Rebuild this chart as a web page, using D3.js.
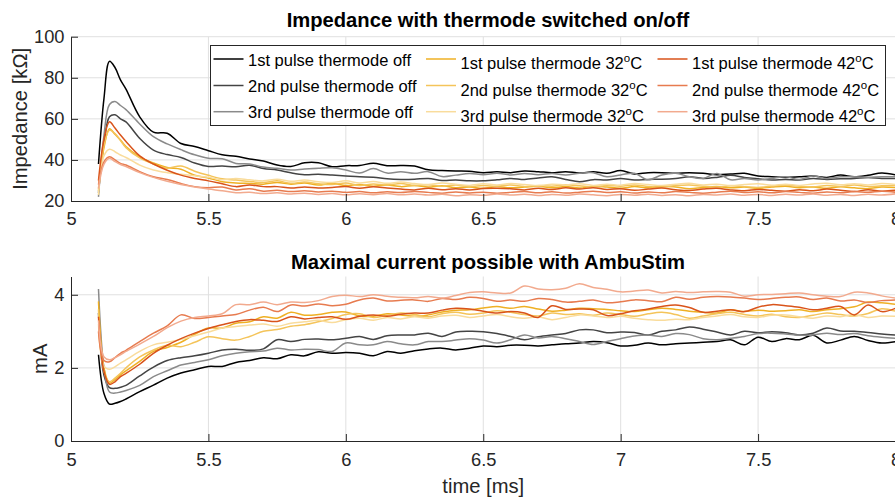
<!DOCTYPE html>
<html>
<head>
<meta charset="utf-8">
<script src="https://cdn.jsdelivr.net/npm/d3@7"></script>
<style>
  html, body { margin: 0; padding: 0; background: #fff; }
  svg { display: block; font-family: "Liberation Sans", Arial, Helvetica, sans-serif; }
</style>
</head>
<body>
<svg id="chart" width="895" height="497"></svg>
<script>
// ---- sample times [ms] ----
const time = [5.10,5.12,5.14,5.16,5.18,5.20,5.25,5.30,5.35,5.40,5.45,5.50,5.55,5.60,5.65,5.70,5.75,5.80,5.85,5.90,5.95,
  6.00,6.05,6.10,6.15,6.20,6.25,6.30,6.35,6.40,6.45,6.50,6.55,6.60,6.65,6.70,6.75,6.80,6.85,6.90,6.95,
  7.00,7.05,7.10,7.15,7.20,7.25,7.30,7.35,7.40,7.45,7.50,7.55,7.60,7.65,7.70,7.75,7.80,7.85,7.90,7.95,8.00];

// ---- legend entries and colours ----
const seriesNames = [
  "1st pulse thermode off", "2nd pulse thermode off", "3rd pulse thermode off",
  "1st pulse thermode 32^oC", "2nd pulse thermode 32^oC", "3rd pulse thermode 32^oC",
  "1st pulse thermode 42^oC", "2nd pulse thermode 42^oC", "3rd pulse thermode 42^oC"
];
const seriesColors = [
  "#000000", "#444444", "#8a8a8a",
  "#efb024", "#f4c45a", "#f9dc9c",
  "#d9531a", "#e77b4f", "#f2aa8e"
];

// ---- impedance [kOhm] ----
const impOff1 = [38,70,88,85,79,74.5,61,53.5,53,48,46.5,44.5,42.5,41.8,40.5,39.5,37.5,36.8,38.6,38.6,36.7,37.2,37.3,38.4,37.2,37.3,
  37.0,35.2,34.8,34.6,34.5,33.8,34.2,33.8,34.6,34.3,33.8,34.3,33.6,34.2,33.5,34.8,33.2,33.8,33.8,33.5,
  33.8,33.5,32.8,33.1,33.5,32.2,31.8,31.5,31.8,32.2,31.5,32.6,31.8,32.5,33.6,32.7];
const impOff2 = [24,48,61,62,60,58.5,50.5,44.8,42.6,41.2,38.5,36.8,37.0,36.7,37.4,35.8,35.1,33.7,32.8,33.0,32.6,32.2,31.8,31.6,30.8,30.5,
  30.6,31.0,30.0,30.2,29.8,29.8,30.3,31.0,30.5,31.2,31.8,30.5,29.4,30.4,30.2,31.0,30.2,30.5,30.6,31.0,
  31.8,31.0,31.5,32.5,31.5,30.8,30.2,30.5,30.2,31.0,30.5,30.8,31.0,31.5,31.0,31.0];
const impOff3 = [22,52,67,68.5,66.5,64.5,57.5,51.3,47.8,45,42.5,40.8,40.6,38.3,38.0,36.5,35.9,35.1,35.6,36.0,36.2,35.1,33.6,35.8,33.6,34.3,
  33.5,34.3,31.9,32.6,33.4,32.8,33.5,32.7,33.4,32.8,33.4,32.7,33.5,33.8,31.8,32.7,33.5,30.3,32.7,33.5,
  31.8,31.0,33.4,30.3,31.0,30.2,31.0,31.8,30.5,32.2,31.0,31.8,31.8,31.5,31.8,31.8];
const imp32a = [25,46,55.2,52.5,49.7,46.5,41.5,38.5,36.3,35.5,32.5,31.2,29.4,28.8,28.5,28.2,29.0,28.2,28.8,27.8,28.6,27.5,28.0,27.2,27.8,27.0,
  27.5,26.8,27.4,26.5,26.8,26.2,27.0,26.4,26.8,27.2,26.5,27.0,26.3,27.2,26.8,26.2,27.0,26.5,27.2,26.8,
  26.0,26.6,27.0,26.4,26.8,26.2,26.8,27.2,26.5,26.8,26.2,26.9,26.4,26.0,26.8,26.5];
const imp32b = [26,47,54.5,52.8,49.5,46.0,41.0,38.0,36.0,37.0,34.5,32.5,30.8,30.2,29.5,29.0,29.8,28.6,29.2,28.4,28.0,28.8,27.6,28.3,27.8,28.5,
  27.6,27.9,27.2,27.8,27.0,27.5,27.2,27.8,27.0,27.6,27.2,27.9,27.4,26.8,27.6,27.2,27.8,27.1,26.7,27.5,
  27.8,27.2,26.8,27.4,27.0,26.6,27.3,27.8,27.2,26.8,27.5,27.1,27.8,27.0,27.4,27.6];
const imp32c = [23,42,45.2,44.0,42.4,41.2,37.5,35.1,33.8,33.0,32.3,31.5,30.4,31.0,30.3,29.8,30.6,29.6,30.2,29.4,29.0,29.8,28.8,29.5,28.6,29.2,
  28.5,28.0,28.8,28.2,27.6,28.4,27.8,28.5,28.0,27.4,28.2,27.8,28.4,27.6,28.2,27.7,28.5,28.0,27.5,28.2,
  28.6,27.8,28.2,27.5,28.0,28.4,27.7,28.2,27.6,28.3,28.6,27.9,28.4,27.8,28.5,28.0];
const imp42a = [30,50,58.6,55.5,52.1,49.0,42.0,38.0,35.0,32.6,31.0,29.8,28.4,27.0,27.8,27.0,27.0,26.3,26.8,26.3,26.6,27.0,26.2,26.9,26.3,25.8,
  25.4,26.2,25.5,26.0,25.4,26.1,26.2,26.0,25.4,26.2,25.6,26.4,25.8,26.5,25.6,26.0,25.2,25.8,26.3,25.5,
  25.1,25.8,26.2,25.4,25.0,25.6,25.2,24.8,25.5,25.0,25.8,25.2,24.6,25.5,24.8,25.2];
const imp42b = [28,39,41.5,40.0,38.3,37.5,34.3,31.8,30.5,28.5,27.0,26.5,26.8,25.4,26.0,24.8,25.2,24.6,25.0,24.4,24.8,24.2,24.6,24.0,24.5,24.1,
  24.6,24.2,23.8,24.4,23.9,24.3,23.8,24.2,24.6,24.0,24.5,23.9,24.3,24.8,24.1,24.5,23.9,24.4,24.0,24.6,
  24.2,23.8,24.3,24.8,24.1,24.5,24.0,24.6,24.2,23.8,24.4,24.0,24.6,24.2,24.7,24.3];
const imp42c = [26,38,40.8,39.2,37.8,36.8,33.8,31.5,29.6,28.0,26.8,25.8,25.0,24.0,24.2,23.6,24.0,23.4,23.8,23.2,23.6,23.0,23.5,23.1,23.6,23.0,
  23.4,22.9,23.3,22.6,23.1,22.8,23.4,22.9,23.3,22.7,23.2,22.8,23.4,23.0,22.6,23.2,22.8,23.3,22.7,23.1,
  22.6,23.2,22.9,23.4,22.8,23.2,22.7,23.3,22.9,23.4,22.8,23.2,22.7,23.3,22.9,23.5];

// ---- maximal current [mA] ----
const curOff1 = [2.36,1.3,1.01,1.03,1.08,1.15,1.35,1.53,1.72,1.86,1.95,2.04,2.04,2.15,2.20,2.28,2.25,2.36,2.33,2.44,2.40,2.42,2.40,2.33,2.45,2.40,
  2.47,2.52,2.54,2.49,2.54,2.60,2.58,2.62,2.62,2.60,2.63,2.66,2.68,2.72,2.69,2.60,2.62,2.68,2.63,2.66,
  2.68,2.70,2.72,2.77,2.63,2.84,2.72,2.80,2.77,2.89,2.68,2.76,2.86,2.75,2.68,2.72];
const curOff2 = [3.5,1.8,1.46,1.44,1.47,1.52,1.78,2.02,2.20,2.28,2.33,2.40,2.49,2.51,2.48,2.52,2.77,2.72,2.78,2.79,2.77,2.81,2.86,2.78,2.88,2.90,
  2.90,2.95,2.86,2.98,3.00,2.99,2.94,2.86,2.77,2.85,2.90,2.94,3.04,3.04,2.96,2.98,2.97,2.90,3.00,3.04,
  3.12,3.06,2.98,2.90,3.00,2.96,2.99,2.96,2.90,2.95,3.09,3.01,3.00,2.97,2.93,2.90];
const curOff3 = [4.16,2.0,1.34,1.31,1.34,1.38,1.52,1.76,1.92,2.08,2.15,2.22,2.33,2.40,2.44,2.46,2.54,2.49,2.51,2.50,2.45,2.68,2.63,2.63,2.72,2.66,
  2.63,2.72,2.72,2.76,2.80,2.76,2.68,2.77,2.90,2.82,2.86,2.80,2.72,2.64,2.72,2.80,2.87,2.90,2.86,2.94,
  2.91,2.80,2.77,2.81,2.86,2.94,2.95,2.93,2.90,2.90,2.95,2.91,2.94,2.88,2.84,2.81];
const cur32a = [3.82,2.0,1.58,1.68,1.81,1.92,2.18,2.45,2.56,2.70,2.92,3.09,3.09,3.22,3.26,3.40,3.36,3.52,3.44,3.46,3.52,3.53,3.42,3.41,3.48,3.45,
  3.41,3.45,3.53,3.58,3.59,3.64,3.68,3.63,3.68,3.61,3.55,3.58,3.63,3.62,3.60,3.56,3.54,3.59,3.63,3.60,
  3.55,3.52,3.50,3.59,3.54,3.58,3.55,3.56,3.59,3.54,3.59,3.62,3.67,3.80,3.78,3.74];
const cur32b = [3.6,1.9,1.62,1.72,1.85,2.0,2.30,2.49,2.62,2.58,2.70,2.85,2.80,2.76,2.86,3.00,3.05,3.14,3.18,3.26,3.35,3.46,3.48,3.38,3.44,3.50,
  3.46,3.40,3.48,3.52,3.47,3.50,3.56,3.52,3.46,3.42,3.50,3.46,3.48,3.44,3.50,3.46,3.41,3.48,3.52,3.46,
  3.36,3.42,3.48,3.52,3.46,3.42,3.47,3.40,3.38,3.44,3.50,3.46,3.42,3.49,3.62,3.55];
const cur32c = [3.2,2.05,1.96,2.03,2.13,2.22,2.45,2.63,2.70,2.78,2.88,2.98,3.09,3.13,3.17,3.20,3.14,3.22,3.26,3.30,3.24,3.32,3.36,3.30,3.38,3.34,
  3.40,3.36,3.42,3.44,3.38,3.42,3.46,3.40,3.36,3.40,3.32,3.38,3.45,3.42,3.38,3.41,3.36,3.32,3.30,3.33,
  3.32,3.38,3.42,3.46,3.40,3.38,3.44,3.45,3.40,3.36,3.42,3.40,3.46,3.38,3.42,3.41];
const cur42a = [3.4,1.9,1.55,1.62,1.76,1.85,2.10,2.40,2.62,2.80,2.95,3.08,3.18,3.27,3.32,3.30,3.27,3.40,3.34,3.38,3.40,3.33,3.41,3.45,3.41,3.47,
  3.50,3.50,3.58,3.63,3.61,3.55,3.50,3.54,3.50,3.38,3.70,3.60,3.61,3.59,3.43,3.48,3.56,3.61,3.68,3.72,
  3.65,3.52,3.55,3.59,3.54,3.66,3.73,3.70,3.66,3.59,3.63,3.68,3.45,3.72,3.54,3.63];
const cur42b = [3.0,2.2,2.17,2.28,2.40,2.48,2.72,2.95,3.15,3.45,3.35,3.38,3.42,3.46,3.58,3.66,3.54,3.72,3.69,3.75,3.70,3.74,3.86,3.91,3.83,3.85,
  3.86,3.82,3.90,3.87,3.93,3.90,3.82,3.86,3.82,3.90,3.87,3.80,3.82,3.86,3.78,3.81,3.86,3.84,3.81,3.93,
  3.88,3.93,3.95,3.94,3.91,3.87,3.90,3.93,3.94,3.87,3.91,3.83,3.86,3.79,3.84,3.86];
const cur42c = [3.3,2.3,2.22,2.28,2.36,2.45,2.65,2.86,3.10,3.28,3.38,3.42,3.48,3.73,3.73,3.80,3.73,3.80,3.79,3.84,3.95,3.99,3.95,4.00,3.96,3.93,
  3.92,3.95,3.91,3.98,4.06,4.08,4.05,4.05,4.24,4.16,4.14,4.18,4.30,4.20,4.15,4.08,4.10,4.13,4.05,4.09,
  4.06,4.08,4.09,4.07,3.96,4.00,4.01,4.03,4.05,4.00,3.96,3.95,4.07,4.05,3.97,3.91];

// ---- axis ticks ----
const timeTicks = [5, 5.5, 6, 6.5, 7, 7.5, 8];
const timeTickLabels = ["5", "5.5", "6", "6.5", "7", "7.5", "8"];
const impTicks = [20, 40, 60, 80, 100];
const curTicks = [0, 2, 4];

const impedanceSeries = [impOff1, impOff2, impOff3, imp32a, imp32b, imp32c, imp42a, imp42b, imp42c];
const currentSeries = [curOff1, curOff2, curOff3, cur32a, cur32b, cur32c, cur42a, cur42b, cur42c];

// ---- drawing ----
const svg = d3.select("#chart");
const axisColor = "#262626";
const gridColor = "#e0e0e0";
const tickFont = 18.3, labelFont = 20.2, legendFont = 16.5;
const plotLeft = 71, plotRight = 895.5;
const titleX = 488;

const x = d3.scaleLinear().domain([5, 8]).range([plotLeft, plotRight]);

function drawPanel(cfg) {
  const y = d3.scaleLinear().domain(cfg.yDomain).range([cfg.bottom, cfg.top]);
  const g = svg.append("g");

  // grid
  g.append("g").selectAll("line").data(timeTicks.slice(1)).join("line")
    .attr("x1", d => x(d)).attr("x2", d => x(d))
    .attr("y1", cfg.top).attr("y2", cfg.bottom)
    .attr("stroke", gridColor).attr("stroke-width", 1);
  g.append("g").selectAll("line").data(cfg.yTicks.filter(v => v !== cfg.yDomain[0])).join("line")
    .attr("x1", plotLeft).attr("x2", plotRight)
    .attr("y1", d => y(d)).attr("y2", d => y(d))
    .attr("stroke", gridColor).attr("stroke-width", 1);

  // series
  const clipId = "clip" + cfg.id;
  svg.append("clipPath").attr("id", clipId).append("rect")
    .attr("x", plotLeft).attr("y", cfg.top).attr("width", plotRight - plotLeft).attr("height", cfg.bottom - cfg.top);
  const line = d3.line().x((d, i) => x(time[i])).y(d => y(d)).curve(d3.curveCatmullRom.alpha(0.5));
  g.append("g").attr("clip-path", `url(#${clipId})`)
    .selectAll("path").data(cfg.series).join("path")
    .attr("d", line)
    .attr("fill", "none")
    .attr("stroke", (d, i) => seriesColors[i])
    .attr("stroke-width", 1.5)
    .attr("stroke-linejoin", "round");

  // axes
  const xAxis = d3.axisBottom(x).tickValues(timeTicks).tickFormat((d, i) => timeTickLabels[i])
    .tickSizeInner(-7).tickSizeOuter(0).tickPadding(cfg.xPad);
  const gx = g.append("g").attr("transform", `translate(0,${cfg.bottom})`).call(xAxis);
  const yAxis = d3.axisLeft(y).tickValues(cfg.yTicks).tickFormat(d3.format("d"))
    .tickSizeInner(-7).tickSizeOuter(0).tickPadding(6.5);
  const gy = g.append("g").attr("transform", `translate(${plotLeft},0)`).call(yAxis);
  [gx, gy].forEach(a => {
    a.select(".domain").attr("stroke", axisColor).attr("stroke-width", 1);
    a.selectAll(".tick line").attr("stroke", axisColor).attr("stroke-width", 1);
    a.selectAll(".tick text").attr("fill", axisColor).style("font-size", tickFont + "px")
      .style("font-family", '"Liberation Sans", Arial, sans-serif');
  });

  // title
  svg.append("text")
    .attr("x", titleX).attr("y", cfg.titleY)
    .attr("text-anchor", "middle").attr("fill", "#000")
    .style("font-size", labelFont + "px").style("font-weight", "bold")
    .text(cfg.title);

  // y label
  svg.append("text")
    .attr("transform", `translate(${cfg.yLabelX},${(cfg.top + cfg.bottom) / 2}) rotate(-90)`)
    .attr("text-anchor", "middle").attr("fill", axisColor)
    .style("font-size", labelFont + "px")
    .text(cfg.yLabel);

  return y;
}

drawPanel({
  id: "imp", top: 36.7, bottom: 201, yDomain: [20, 100], yTicks: impTicks,
  series: impedanceSeries, xPad: 11, titleY: 27,
  title: "Impedance with thermode switched on/off",
  yLabel: "Impedance [k\u03A9]", yLabelX: 27
});

drawPanel({
  id: "cur", top: 276.5, bottom: 441, yDomain: [0, 4.5], yTicks: curTicks,
  series: currentSeries, xPad: 12.5, titleY: 269,
  title: "Maximal current possible with AmbuStim",
  yLabel: "mA", yLabelX: 47
});

// x label
svg.append("text")
  .attr("x", (plotLeft + plotRight) / 2).attr("y", 493)
  .attr("text-anchor", "middle").attr("fill", axisColor)
  .style("font-size", labelFont + "px")
  .text("time [ms]");

// legend
const legend = svg.append("g");
legend.append("rect")
  .attr("x", 210.5).attr("y", 45.5).attr("width", 675).attr("height", 80)
  .attr("fill", "#fff").attr("stroke", axisColor).attr("stroke-width", 1);
const colLineX = [213.5, 426, 657.5];
const rowY = [59, 85.5, 111.7];
seriesNames.forEach((name, i) => {
  const col = Math.floor(i / 3), row = i % 3;
  const lx = colLineX[col], ly = rowY[row];
  legend.append("line")
    .attr("x1", lx).attr("x2", lx + 30).attr("y1", ly).attr("y2", ly)
    .attr("stroke", seriesColors[i]).attr("stroke-width", 1.5);
  const hasSup = name.includes("^");
  const t = legend.append("text")
    .attr("x", lx + 34.5).attr("y", ly + (hasSup ? 10 : 6.5))
    .attr("fill", "#000").style("font-size", legendFont + "px");
  if (hasSup) {
    const [pre, post] = name.split("^");
    t.append("tspan").text(pre);
    t.append("tspan").attr("dy", -7).style("font-size", "11.5px").text(post[0]);
    t.append("tspan").attr("dy", 7).text(post.slice(1));
  } else {
    t.text(name);
  }
});
</script>
</body>
</html>
